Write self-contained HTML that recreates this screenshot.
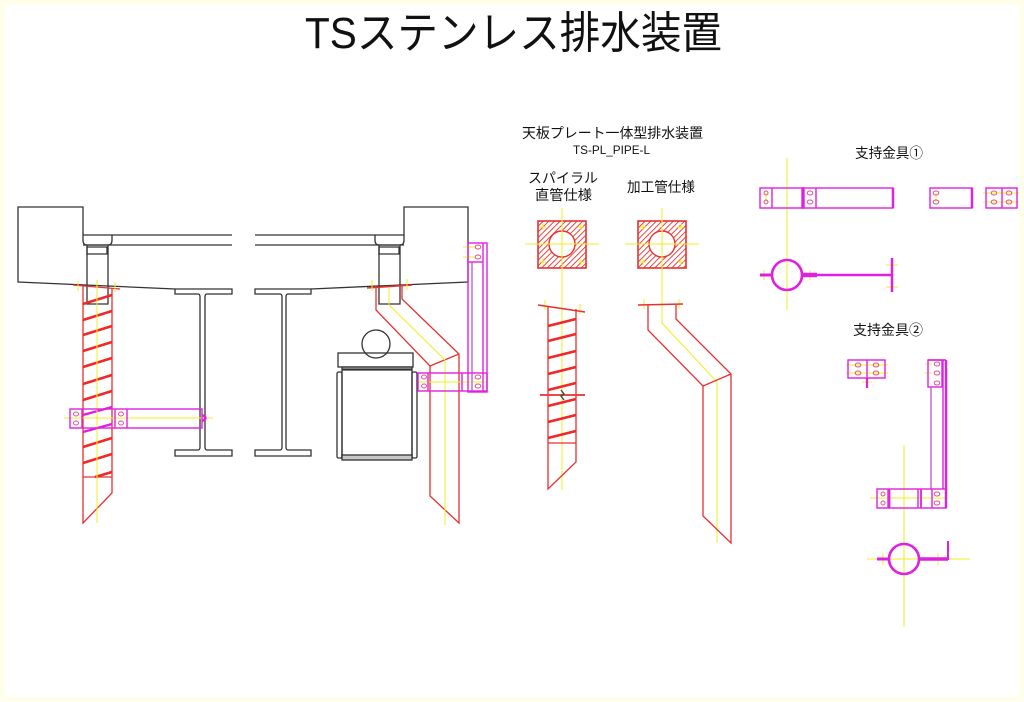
<!DOCTYPE html>
<html>
<head>
<meta charset="utf-8">
<style>
html,body{margin:0;padding:0;background:#fff;}
body{width:1024px;height:702px;overflow:hidden;}
svg{display:block;}
text{font-family:"Liberation Sans","Noto Sans CJK JP",sans-serif;fill:#111;}
</style>
</head>
<body>
<svg width="1024" height="702" viewBox="0 0 1024 702" xmlns="http://www.w3.org/2000/svg">
<defs>
<pattern id="hatch" patternUnits="userSpaceOnUse" width="4" height="4" patternTransform="rotate(45)">
<rect width="4" height="4" fill="#fff"/>
<line x1="0" y1="0" x2="0" y2="4" stroke="#e83030" stroke-width="1.8"/>
</pattern>
</defs>
<rect x="0" y="0" width="1024" height="702" fill="#fff"/>
<rect x="2.5" y="2.5" width="1019" height="697" fill="none" stroke="#fefeea" stroke-width="5"/>

<!-- Titles -->
<text x="305" y="48" font-size="44" textLength="417" lengthAdjust="spacingAndGlyphs">TSステンレス排水装置</text>
<text x="522" y="138" font-size="14" textLength="181" lengthAdjust="spacingAndGlyphs">天板プレート一体型排水装置</text>
<text x="573" y="154" font-size="12" textLength="77" lengthAdjust="spacingAndGlyphs">TS-PL_PIPE-L</text>
<text x="528" y="183" font-size="14" textLength="70" lengthAdjust="spacingAndGlyphs">スパイラル</text>
<text x="535" y="200" font-size="14" textLength="57" lengthAdjust="spacingAndGlyphs">直管仕様</text>
<text x="627" y="192" font-size="14" textLength="68" lengthAdjust="spacingAndGlyphs">加工管仕様</text>
<text x="855" y="158" font-size="14" textLength="68" lengthAdjust="spacingAndGlyphs">支持金具①</text>
<text x="853" y="335" font-size="14" textLength="70" lengthAdjust="spacingAndGlyphs">支持金具②</text>

<!-- ================= LEFT ASSEMBLY ================= -->
<g fill="none" stroke="#333" stroke-width="1.3">
  <path d="M83,235 V207 H18 V282 L175,289"/>
  <line x1="83" y1="235" x2="232" y2="235"/>
  <line x1="83" y1="245" x2="232" y2="245"/>
  <path d="M83,235 V240 Q83,245 87,245 H108 Q112,245 112,240 V235"/>
  <path d="M87,247 H107 V254 H87 Z"/>
  <path d="M87,245 V304 H108 V245"/>
  <!-- I-beam 1 -->
  <path d="M175,289 H232 V294 H207 Q205,294 205,297 V447 Q205,450 207,450 H232 V456 H175 V450 H198 Q200,450 200,447 V297 Q200,294 198,294 H175 Z"/>
</g>
<!-- spiral pipe left -->
<g fill="none" stroke="#e83030" stroke-width="1.3">
  <path d="M83,286 V523 L112,493 V288"/>
  <line x1="73" y1="285" x2="120" y2="289"/>
  <line x1="83" y1="477" x2="112" y2="477"/>
</g>
<g stroke="#f02828" stroke-width="2.6">
  <line x1="83" y1="304" x2="112" y2="295"/>
  <line x1="83" y1="320" x2="112" y2="311"/>
  <line x1="83" y1="335" x2="112" y2="326"/>
  <line x1="83" y1="351" x2="112" y2="342"/>
  <line x1="83" y1="367" x2="112" y2="358"/>
  <line x1="83" y1="384" x2="112" y2="375"/>
  <line x1="83" y1="400" x2="112" y2="391"/>
  <line x1="83" y1="447" x2="112" y2="438"/>
  <line x1="83" y1="463" x2="112" y2="454"/>
  <line x1="95" y1="477" x2="112" y2="472"/>
</g>
<g stroke="#e020e0" stroke-width="2.4">
  <line x1="83" y1="415" x2="112" y2="407"/>
  <line x1="83" y1="432" x2="112" y2="424"/>
</g>
<g stroke="#f2ee20" stroke-width="1">
  <line x1="97" y1="280" x2="97" y2="523"/>
  <line x1="78" y1="281" x2="78" y2="291"/>
  <line x1="115" y1="282" x2="115" y2="292"/>
  <line x1="64" y1="418" x2="213" y2="418"/>
</g>
<!-- clamp left -->
<g fill="none" stroke="#e020e0" stroke-width="1.4">
  <rect x="70" y="409" width="132" height="19"/>
  <line x1="82" y1="409" x2="82" y2="428"/>
  <line x1="115" y1="409" x2="115" y2="428"/>
  <line x1="127" y1="409" x2="127" y2="428"/>
  <path d="M202,415 Q209,418 202,421" stroke-width="2.5"/>
</g>
<g fill="none" stroke="#e05090" stroke-width="1">
  <ellipse cx="76" cy="414" rx="2.5" ry="2"/>
  <ellipse cx="76" cy="423" rx="2.5" ry="2"/>
  <ellipse cx="121" cy="414" rx="2.5" ry="2"/>
  <ellipse cx="121" cy="423" rx="2.5" ry="2"/>
</g>

<!-- ================= MIDDLE ASSEMBLY ================= -->
<g fill="none" stroke="#333" stroke-width="1.3">
  <path d="M404,235 V207 H468 V282 L311,289"/>
  <line x1="255" y1="235" x2="404" y2="235"/>
  <line x1="255" y1="245" x2="404" y2="245"/>
  <path d="M375,235 V240 Q375,245 379,245 H400 Q404,245 404,240 V235"/>
  <path d="M379,247 H399 V254 H379 Z"/>
  <path d="M379,245 V304 H400 V245"/>
  <!-- I-beam 2 -->
  <path d="M255,289 H311 V294 H288 Q286,294 286,297 V447 Q286,450 288,450 H311 V456 H255 V450 H280 Q282,450 282,447 V297 Q282,294 280,294 H255 Z"/>
  <!-- equipment -->
  <circle cx="376" cy="344" r="14"/>
  <rect x="338" y="353" width="75" height="14"/>
  <rect x="342" y="367" width="70" height="91"/>
  <rect x="337" y="372" width="5" height="86" rx="1.5"/>
  <rect x="412" y="372" width="5" height="86" rx="1.5"/>
  <rect x="342" y="455" width="70" height="5" fill="#c8c8c8"/>
  <line x1="342" y1="369.5" x2="412" y2="369.5" stroke-width="2.2"/>
</g>
<!-- processed pipe in assembly -->
<g fill="none" stroke="#e83030" stroke-width="1.3">
  <path d="M376,286 V310 L430,366 V496 L459,523 V354 L402,299 V286"/>
  <line x1="430" y1="366" x2="459" y2="354"/>
  <line x1="367" y1="288" x2="412" y2="285" stroke-width="1.6"/>
</g>
<g fill="none" stroke="#f2ee20" stroke-width="1">
  <path d="M389,287 V305 L445,360 V525"/>
  <line x1="372" y1="280" x2="372" y2="291"/>
  <line x1="407" y1="279" x2="407" y2="290"/>
  <line x1="463" y1="247" x2="476" y2="247"/>
  <line x1="463" y1="257" x2="476" y2="257"/>
  <line x1="418" y1="382" x2="487" y2="382"/>
</g>
<!-- bracket in assembly -->
<g fill="none" stroke="#e020e0" stroke-width="1.4">
  <rect x="468" y="243" width="19" height="149"/>
  <line x1="472" y1="262" x2="472" y2="392" stroke="#c060d0"/>
  <line x1="483" y1="243" x2="483" y2="392"/>
  <line x1="468" y1="262" x2="483" y2="262"/>
  <rect x="418" y="373" width="69" height="18"/>
  <line x1="428" y1="373" x2="428" y2="391"/>
  <line x1="462" y1="373" x2="462" y2="391"/>
</g>
<g fill="none" stroke="#e05090" stroke-width="1">
  <ellipse cx="478" cy="247" rx="2.8" ry="2"/>
  <ellipse cx="478" cy="257" rx="2.8" ry="2"/>
  <ellipse cx="424" cy="377" rx="2.5" ry="2"/>
  <ellipse cx="424" cy="386" rx="2.5" ry="2"/>
  <ellipse cx="478" cy="377" rx="2.8" ry="2"/>
  <ellipse cx="478" cy="386" rx="2.8" ry="2"/>
</g>

<!-- ================= CENTER DETAILS ================= -->
<!-- squares -->
<g>
  <rect x="538" y="221" width="48" height="47" fill="url(#hatch)" stroke="#e83030" stroke-width="1.6"/>
  <circle cx="562" cy="244" r="13" fill="#fff" stroke="#e83030" stroke-width="1.4"/>
  <rect x="638" y="221" width="48" height="47" fill="url(#hatch)" stroke="#e83030" stroke-width="1.6"/>
  <circle cx="662" cy="244" r="13" fill="#fff" stroke="#e83030" stroke-width="1.4"/>
</g>
<g stroke="#f2ee20" stroke-width="1" fill="none">
  <line x1="525" y1="244" x2="599" y2="244"/>
  <line x1="562" y1="208" x2="562" y2="490"/>
  <line x1="625" y1="244" x2="699" y2="244"/>
  <path d="M662,208 V323 L717,382 V543"/>
  <path d="M540,227 h6 M543,224 v6 M578,227 h6 M581,224 v6 M540,262 h6 M543,259 v6 M578,262 h6 M581,259 v6"/>
  <path d="M640,227 h6 M643,224 v6 M678,227 h6 M681,224 v6 M640,262 h6 M643,259 v6 M678,262 h6 M681,259 v6"/>
  <path d="M545,300 v10 M580,304 v10 M644,299 v10 M679,299 v10"/>
</g>
<!-- spiral straight pipe -->
<g fill="none" stroke="#e83030" stroke-width="1.3">
  <path d="M548,306 V489 L576,462 V309"/>
  <line x1="538" y1="305" x2="585" y2="312" stroke-width="1.6"/>
  <line x1="548" y1="443" x2="576" y2="443"/>
  <line x1="540" y1="395" x2="585" y2="395" stroke-width="1.8"/>
</g>
<g stroke="#f02828" stroke-width="2.6">
  <line x1="548" y1="326" x2="576" y2="319"/>
  <line x1="548" y1="341" x2="576" y2="334"/>
  <line x1="548" y1="358" x2="576" y2="351"/>
  <line x1="548" y1="374" x2="576" y2="367"/>
  <line x1="548" y1="390" x2="576" y2="383"/>
  <line x1="548" y1="406" x2="576" y2="399"/>
  <line x1="548" y1="422" x2="576" y2="415"/>
  <line x1="548" y1="438" x2="576" y2="431"/>
</g>
<path d="M561,390 l3,4 l-3,2 l3,4" fill="none" stroke="#444" stroke-width="1.4"/>
<!-- processed pipe -->
<g fill="none" stroke="#e83030" stroke-width="1.3">
  <path d="M648,305 V330 L703,386 V516 L731,543 V374 L676,319 V305"/>
  <line x1="703" y1="386" x2="731" y2="374"/>
  <line x1="638" y1="305" x2="683" y2="304" stroke-width="1.6"/>
</g>

<!-- ================= SUPPORT 1 ================= -->
<g stroke="#f2ee20" stroke-width="1" fill="none">
  <line x1="787" y1="158" x2="787" y2="310"/>
  <line x1="983" y1="193" x2="1019" y2="193"/>
  <line x1="983" y1="202" x2="1019" y2="202"/>
  <line x1="936" y1="193" x2="936" y2="202"/>
  <line x1="766" y1="193" x2="766" y2="202"/>
  <path d="M764,270 v10 M810,270 v10 M886,265 h12 M886,287 h12"/>
</g>
<g fill="none" stroke="#e020e0" stroke-width="1.4">
  <rect x="760" y="188" width="133" height="20"/>
  <line x1="772" y1="188" x2="772" y2="208"/>
  <rect x="802" y="188" width="2" height="20" fill="#e020e0"/>
  <line x1="816" y1="188" x2="816" y2="208"/>
  <line x1="893" y1="188" x2="893" y2="208" stroke-width="2.5"/>
  <rect x="930" y="188" width="42" height="20"/>
  <line x1="972" y1="188" x2="972" y2="208" stroke-width="2.5"/>
  <rect x="986" y="188" width="31" height="20"/>
  <line x1="1002" y1="188" x2="1002" y2="208"/>
  <circle cx="787" cy="275" r="15" stroke-width="2.6"/>
  <line x1="760" y1="275" x2="772" y2="275" stroke-width="3"/>
  <line x1="802" y1="275" x2="817" y2="275" stroke-width="4.5"/>
  <line x1="817" y1="275" x2="892" y2="275" stroke-width="2.5"/>
  <line x1="892" y1="258" x2="892" y2="292" stroke-width="2.5"/>
</g>
<g fill="none" stroke="#e05090" stroke-width="1">
  <ellipse cx="766" cy="193" rx="2" ry="2"/>
  <ellipse cx="766" cy="202" rx="2" ry="2"/>
  <ellipse cx="810" cy="193" rx="2.8" ry="2"/>
  <ellipse cx="810" cy="202" rx="2.8" ry="2"/>
  <ellipse cx="936" cy="193" rx="2.8" ry="2"/>
  <ellipse cx="936" cy="202" rx="2.8" ry="2"/>
  <ellipse cx="994" cy="193" rx="2.8" ry="2"/>
  <ellipse cx="994" cy="202" rx="2.8" ry="2"/>
  <ellipse cx="1009" cy="193" rx="2.8" ry="2"/>
  <ellipse cx="1009" cy="202" rx="2.8" ry="2"/>
</g>

<!-- ================= SUPPORT 2 ================= -->
<g stroke="#f2ee20" stroke-width="1" fill="none">
  <line x1="846" y1="365" x2="888" y2="365"/>
  <line x1="846" y1="373" x2="888" y2="373"/>
  <line x1="862" y1="382" x2="872" y2="382"/>
  <path d="M925,364 h7 M925,373 h7"/>
  <line x1="870" y1="498" x2="946" y2="498"/>
  <line x1="904" y1="445" x2="904" y2="627"/>
  <line x1="867" y1="559" x2="970" y2="559"/>
  <path d="M883,553 v12 M938,553 v12"/>
</g>
<g fill="none" stroke="#e020e0" stroke-width="1.4">
  <rect x="848" y="360" width="37" height="18"/>
  <line x1="867" y1="360" x2="867" y2="378"/>
  <line x1="867" y1="378" x2="867" y2="388" stroke-width="2.2"/>
  <line x1="928" y1="360" x2="946" y2="360"/>
  <rect x="928" y="360" width="14" height="27"/>
  <line x1="931" y1="387" x2="931" y2="489" stroke="#c060d0"/>
  <line x1="943" y1="360" x2="943" y2="489"/>
  <line x1="946" y1="360" x2="946" y2="508" stroke-width="2.4"/>
  <rect x="877" y="489" width="69" height="19"/>
  <line x1="888" y1="489" x2="888" y2="508"/>
  <line x1="889.5" y1="489" x2="889.5" y2="508" stroke-width="1.8"/>
  <line x1="918" y1="489" x2="918" y2="508"/>
  <line x1="921" y1="489" x2="921" y2="508" stroke-width="1.8"/>
  <line x1="932" y1="489" x2="932" y2="508"/>
  <circle cx="904" cy="559" r="15" stroke-width="2.6"/>
  <line x1="877" y1="559" x2="889" y2="559" stroke-width="3"/>
  <line x1="919" y1="559" x2="948" y2="559" stroke-width="3.5"/>
  <line x1="948" y1="541" x2="948" y2="560" stroke-width="2"/>
</g>
<g fill="none" stroke="#e05090" stroke-width="1">
  <ellipse cx="858" cy="365" rx="2.8" ry="2"/>
  <ellipse cx="858" cy="373" rx="2.8" ry="2"/>
  <ellipse cx="876" cy="365" rx="2.8" ry="2"/>
  <ellipse cx="876" cy="373" rx="2.8" ry="2"/>
  <ellipse cx="937" cy="364" rx="2.8" ry="2"/>
  <ellipse cx="937" cy="373" rx="2.8" ry="2"/>
  <ellipse cx="937" cy="383" rx="2.8" ry="2"/>
  <ellipse cx="883" cy="494" rx="2" ry="2"/>
  <ellipse cx="883" cy="503" rx="2" ry="2"/>
  <ellipse cx="937" cy="494" rx="2.8" ry="2"/>
  <ellipse cx="937" cy="503" rx="2.8" ry="2"/>
</g>
</svg>
</body>
</html>
